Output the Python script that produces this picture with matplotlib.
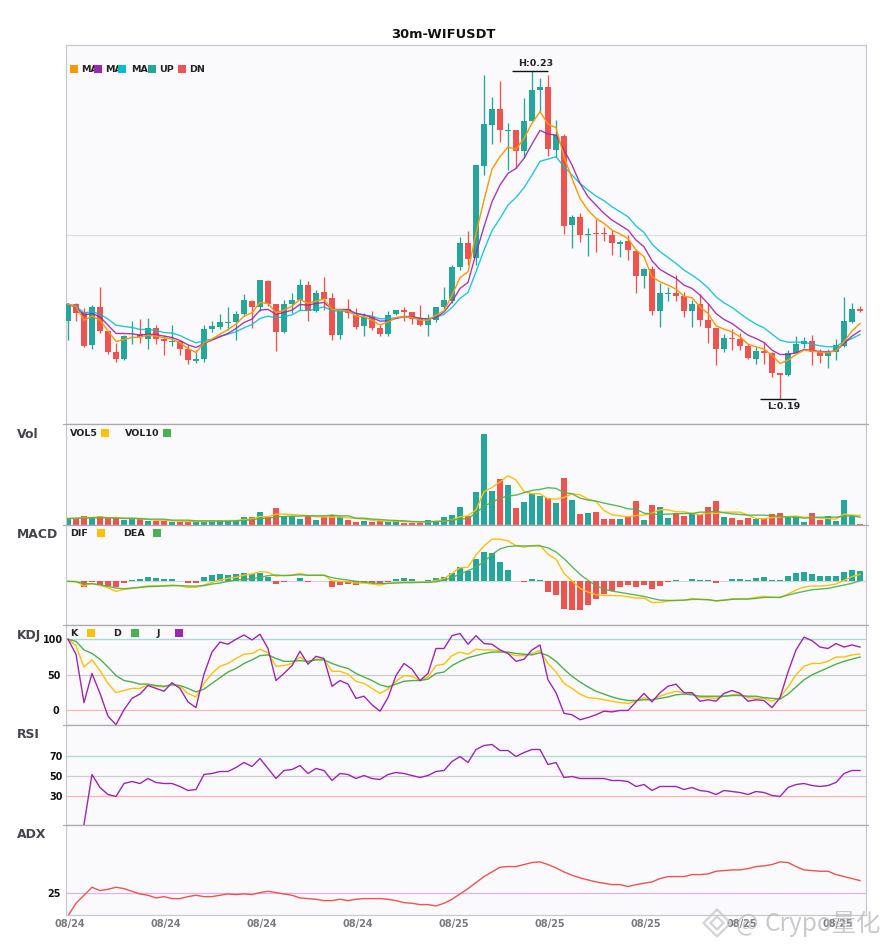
"""30m-WIFUSDT candlesticks with Vol / MACD / KDJ / RSI / ADX panels."""
import matplotlib
matplotlib.use("Agg")
import matplotlib.pyplot as plt
import numpy as np
from matplotlib.patches import Polygon, Rectangle
from matplotlib.transforms import ScaledTranslation

plt.rcParams["font.family"] = ["DejaVu Sans", "Noto Sans CJK SC"]

# ---- Data ---------------------------------------------------------------
TITLE = "30m-WIFUSDT"
TICK_LABELS = ["08/24"] * 4 + ["08/25"] * 5

# prices, in 1e-5 USDT
OPEN = [19976, 20176, 20084, 19688, 20140, 19852, 19600, 19516, 19812, 19816,
        19760, 19888, 19756, 19724, 19732, 19632, 19496, 19520, 19880, 19904,
        19952, 19960, 20060, 20212, 20144, 20452, 20176, 19840, 20176, 20224,
        20404, 20096, 20320, 20248, 19808, 20116, 20044, 19916, 20020, 19888,
        19820, 20060, 20104, 20080, 19996, 19928, 19988, 20144, 20212, 20624,
        20908, 20728, 21836, 22324, 22516, 22256, 22264, 22016, 22372, 22744,
        22780, 22024, 22192, 21124, 21220, 21004, 21028, 21028, 21004, 20900,
        20932, 20812, 20512, 20596, 20092, 20300, 20308, 20272, 20092, 20176,
        19984, 19888, 19636, 19768, 19756, 19672, 19516, 19612, 19588, 19348,
        19324, 19588, 19696, 19732, 19600, 19552, 19600, 19672, 19960, 20116]
CLOSE = [20176, 20072, 19676, 20140, 19856, 19604, 19520, 19792, 19820, 19780,
         19888, 19760, 19736, 19732, 19640, 19508, 19516, 19876, 19912, 19960,
         19960, 20056, 20224, 20140, 20464, 20176, 19844, 20176, 20224, 20404,
         20096, 20308, 20232, 19808, 20104, 20072, 19904, 20020, 19892, 19820,
         20044, 20104, 20084, 20000, 19928, 19996, 20140, 20224, 20620, 20908,
         20720, 21844, 22336, 22516, 22268, 22264, 22016, 22372, 22744, 22780,
         22036, 22204, 21116, 21220, 21004, 21016, 21020, 21020, 20908, 20920,
         20824, 20516, 20596, 20092, 20308, 20308, 20272, 20092, 20176, 19984,
         19888, 19636, 19768, 19756, 19672, 19528, 19612, 19588, 19348, 19324,
         19588, 19696, 19732, 19600, 19552, 19600, 19684, 19972, 20116, 20092]
HIGH = [20184, 20184, 20124, 20164, 20380, 19852, 19708, 19800, 19968, 19996,
        20008, 19924, 19804, 19924, 19732, 19684, 19624, 19924, 19968, 20056,
        20140, 20092, 20296, 20224, 20464, 20464, 20176, 20224, 20308, 20476,
        20452, 20344, 20500, 20308, 20112, 20236, 20128, 20064, 20092, 19924,
        20092, 20104, 20140, 20080, 20164, 20056, 20140, 20380, 20644, 20980,
        21052, 21844, 22924, 22660, 22852, 22348, 22264, 22648, 22972, 22888,
        22924, 22384, 22216, 21244, 21268, 21088, 21196, 21100, 21064, 20944,
        21004, 20836, 20608, 20632, 20428, 20380, 20524, 20320, 20224, 20296,
        20176, 19888, 19816, 19876, 19828, 19696, 19660, 19720, 19600, 19348,
        19624, 19792, 19780, 19804, 19636, 19636, 19756, 20260, 20188, 20152]
LOW = [19744, 19976, 19660, 19636, 19832, 19580, 19484, 19508, 19700, 19708,
       19636, 19696, 19564, 19676, 19564, 19460, 19472, 19484, 19844, 19876,
       19864, 19744, 20032, 19892, 20096, 20152, 19612, 19832, 20064, 20104,
       19972, 20084, 20104, 19744, 19756, 20008, 19876, 19792, 19864, 19792,
       19792, 20044, 19972, 19936, 19912, 19792, 19960, 20104, 20184, 20584,
       20644, 20644, 21724, 22096, 22120, 21784, 21808, 21928, 22372, 22484,
       21952, 21944, 21016, 20848, 20920, 20752, 20800, 20932, 20764, 20740,
       20704, 20308, 20368, 20044, 19900, 20212, 20212, 20020, 19900, 19912,
       19708, 19444, 19600, 19624, 19624, 19516, 19456, 19456, 19300, 19044,
       19312, 19588, 19648, 19444, 19468, 19408, 19504, 19660, 19948, 20080]
MA_FAST = [20176, 20144, 19984, 20032, 19984, 19856, 19728, 19752, 19776, 19780,
           19804, 19792, 19776, 19756, 19712, 19644, 19596, 19712, 19756, 19816,
           19872, 19936, 20032, 20072, 20196, 20184, 20072, 20104, 20152, 20232,
           20184, 20212, 20236, 20112, 20104, 20096, 20032, 20024, 19984, 19924,
           19964, 20016, 20024, 20016, 19984, 19984, 20044, 20096, 20284, 20492,
           20564, 21024, 21424, 21796, 21944, 22060, 22032, 22164, 22344, 22484,
           22336, 22292, 21944, 21684, 21444, 21304, 21204, 21144, 21064, 21016,
           20964, 20824, 20744, 20504, 20444, 20404, 20356, 20272, 20252, 20144,
           20064, 19916, 19876, 19844, 19784, 19696, 19664, 19636, 19564, 19464,
           19504, 19572, 19624, 19612, 19600, 19596, 19616, 19724, 19856, 19944]
MA_MID = [20176, 20136, 20044, 20064, 20024, 19924, 19824, 19824, 19820, 19804,
          19816, 19812, 19792, 19776, 19740, 19688, 19656, 19704, 19744, 19784,
          19824, 19884, 19956, 19996, 20104, 20112, 20056, 20076, 20104, 20172,
          20164, 20184, 20196, 20112, 20112, 20112, 20064, 20048, 20016, 19972,
          19976, 20004, 20024, 20028, 20004, 19996, 20016, 20080, 20204, 20364,
          20436, 20784, 21104, 21404, 21604, 21744, 21804, 21924, 22096, 22260,
          22216, 22204, 22024, 21844, 21624, 21464, 21364, 21264, 21184, 21124,
          21064, 20944, 20864, 20696, 20592, 20536, 20484, 20404, 20364, 20284,
          20184, 20064, 19992, 19944, 19872, 19804, 19764, 19716, 19624, 19572,
          19572, 19592, 19632, 19620, 19608, 19604, 19616, 19704, 19792, 19856]
MA_SLOW = [20176, 20152, 20072, 20084, 20056, 19996, 19924, 19908, 19896, 19872,
           19872, 19860, 19836, 19828, 19800, 19752, 19712, 19736, 19756, 19792,
           19816, 19844, 19892, 19932, 20004, 20032, 20012, 20024, 20048, 20100,
           20100, 20120, 20144, 20096, 20092, 20092, 20064, 20044, 20032, 20000,
           20000, 20012, 20028, 20024, 20004, 20000, 20020, 20052, 20136, 20244,
           20316, 20564, 20824, 21056, 21204, 21364, 21456, 21572, 21724, 21888,
           21916, 21944, 21824, 21724, 21624, 21544, 21472, 21416, 21344, 21284,
           21224, 21112, 21036, 20896, 20804, 20736, 20664, 20584, 20524, 20456,
           20372, 20264, 20192, 20136, 20064, 19996, 19936, 19892, 19816, 19744,
           19720, 19720, 19720, 19696, 19676, 19664, 19668, 19724, 19764, 19812]

VOLUME = [19, 19, 26, 18, 26, 18, 21, 12, 18, 15, 11, 11, 11, 8, 8, 8, 8, 9, 9, 14,
          14, 14, 23, 23, 38, 21, 50, 26, 24, 17, 26, 14, 21, 29, 21, 14, 8, 11, 8, 9,
          8, 9, 5, 5, 5, 14, 11, 22, 29, 53, 26, 98, 272, 101, 137, 119, 50, 68, 95, 86,
          79, 65, 140, 74, 32, 35, 38, 17, 17, 17, 23, 71, 14, 59, 53, 20, 35, 26, 32, 27,
          53, 71, 23, 20, 14, 20, 17, 15, 32, 35, 23, 26, 8, 35, 14, 26, 11, 74, 26, 2]
VOL5 = [18, 18, 21, 21, 23, 20, 21, 18, 18, 17, 15, 13, 13, 11, 10, 9, 9, 9, 10, 11,
        12, 12, 15, 17, 24, 23, 31, 31, 30, 28, 27, 23, 23, 22, 23, 20, 18, 16, 13, 11,
        10, 10, 9, 8, 7, 8, 10, 10, 14, 23, 26, 44, 98, 111, 127, 146, 133, 99, 92, 92,
        77, 76, 81, 92, 89, 76, 69, 42, 29, 26, 23, 27, 28, 34, 44, 44, 38, 38, 33, 29,
        35, 33, 37, 37, 37, 28, 18, 17, 21, 22, 24, 25, 22, 21, 19, 18, 16, 31, 28, 27]
VOL10 = [18, 19, 19, 20, 20, 20, 19, 19, 19, 18, 16, 16, 16, 13, 13, 13, 11, 11, 11, 10,
         10, 11, 12, 14, 18, 19, 23, 24, 25, 25, 26, 26, 26, 28, 26, 26, 19, 19, 16, 15,
         13, 12, 11, 9, 8, 8, 9, 10, 13, 16, 18, 34, 55, 66, 79, 85, 88, 95, 102, 105,
         110, 108, 96, 92, 79, 73, 70, 64, 59, 54, 47, 46, 34, 31, 30, 31, 32, 33, 33, 37,
         37, 40, 35, 32, 30, 28, 28, 28, 26, 24, 22, 22, 19, 21, 22, 22, 22, 25, 26, 22]

# MACD, in 1e-5 USDT
MACD_HIST = [0, 0, -16, -3, -12, -14, -17, -4, 3, 6, 12, 9, 6, 6, 0, -4, -4, 12, 18, 21,
             18, 21, 24, 21, 24, 12, -7, -2, 0, 9, -2, 0, 0, -16, -10, -7, -10, -5, -7, -8,
             -1, 6, 9, 6, 0, 3, 9, 12, 26, 42, 32, 66, 87, 84, 57, 33, 0, -2, 6, 3,
             -32, -41, -83, -86, -86, -71, -53, -38, -29, -17, -11, -17, -11, -23, -14, -2, 3, 0, 6, 3,
             3, -5, 0, 6, 6, 3, 9, 12, 3, 3, 15, 24, 27, 21, 15, 15, 15, 27, 33, 30]
DIF = [0, 0, -14, -6, -12, -19, -30, -24, -21, -18, -13, -13, -13, -11, -13, -18, -18, -11, -3, 4,
       9, 12, 19, 22, 29, 27, 16, 18, 19, 24, 18, 19, 19, 2, 0, -1, -5, -5, -8, -11,
       -6, -4, -2, -2, -3, -3, 3, 8, 24, 41, 42, 79, 106, 126, 126, 121, 107, 102, 107, 108,
       81, 66, 24, 1, -21, -32, -40, -42, -42, -43, -46, -50, -50, -63, -63, -59, -57, -57, -51, -54,
       -54, -59, -57, -52, -52, -52, -48, -45, -47, -48, -38, -26, -17, -14, -14, -12, -8, 3, 14, 21]
DEA = [0, -1, -7, -7, -10, -15, -20, -22, -20, -18, -16, -15, -14, -13, -13, -14, -14, -13, -8, -5,
       0, 4, 6, 8, 12, 17, 19, 17, 18, 20, 18, 18, 18, 11, 7, 4, 0, -2, -4, -6,
       -6, -5, -4, -4, -3, -3, -1, 4, 11, 22, 32, 42, 59, 80, 97, 104, 106, 106, 106, 106,
       100, 88, 68, 44, 21, 3, -13, -23, -29, -33, -37, -41, -45, -51, -56, -57, -57, -56, -54, -54,
       -55, -58, -56, -54, -53, -53, -51, -48, -48, -48, -41, -35, -30, -25, -23, -21, -16, -11, -6, 2]

KDJ_K = [100, 91, 61, 71, 56, 38, 25, 28, 31, 31, 36, 34, 33, 37, 34, 24, 19, 38, 52, 62,
         66, 73, 79, 80, 86, 81, 62, 63, 66, 75, 68, 72, 72, 55, 55, 51, 41, 38, 31, 24,
         30, 41, 49, 48, 42, 47, 63, 65, 77, 82, 79, 86, 85, 85, 84, 80, 77, 77, 80, 84,
         66, 54, 38, 31, 23, 18, 17, 15, 13, 11, 10, 13, 18, 15, 20, 24, 27, 25, 24, 18,
         18, 17, 20, 22, 23, 18, 17, 17, 13, 18, 33, 50, 62, 66, 66, 69, 75, 75, 78, 79]
KDJ_D = [100, 97, 85, 80, 72, 61, 49, 42, 40, 37, 37, 35, 34, 36, 35, 31, 26, 30, 38, 46,
         54, 59, 66, 71, 77, 78, 73, 69, 69, 70, 69, 71, 71, 66, 62, 59, 52, 47, 42, 36,
         33, 37, 41, 42, 42, 44, 52, 54, 63, 69, 74, 77, 80, 82, 82, 82, 80, 79, 78, 81,
         77, 69, 58, 48, 40, 33, 27, 23, 19, 16, 14, 14, 15, 15, 17, 19, 22, 23, 22, 20,
         20, 20, 20, 21, 21, 20, 20, 18, 17, 16, 23, 33, 43, 50, 55, 60, 65, 69, 72, 75]
KDJ_J = [100, 79, 11, 52, 24, -8, -20, 1, 17, 23, 35, 31, 27, 39, 31, 12, 4, 51, 82, 96,
         93, 100, 106, 99, 107, 87, 42, 52, 63, 83, 65, 76, 73, 34, 42, 37, 17, 20, 8, -1,
         18, 49, 66, 58, 42, 52, 87, 87, 105, 108, 93, 105, 94, 93, 85, 80, 69, 72, 85, 92,
         43, 25, -4, -6, -13, -10, -6, -1, -2, 0, 0, 12, 24, 12, 25, 34, 37, 25, 25, 13,
         15, 13, 24, 28, 24, 13, 15, 14, 4, 18, 54, 85, 103, 98, 89, 87, 94, 89, 92, 89]
RSI = [np.nan, np.nan, 1, 51, 38, 31, 29, 42, 44, 42, 47, 43, 42, 42, 39, 35, 36, 51, 52, 54,
       54, 58, 63, 59, 67, 57, 47, 55, 56, 60, 52, 57, 55, 45, 52, 51, 47, 50, 47, 46,
       51, 53, 52, 50, 48, 50, 54, 55, 64, 69, 63, 76, 80, 81, 75, 75, 69, 73, 76, 76,
       61, 63, 48, 49, 47, 47, 47, 47, 45, 45, 44, 39, 41, 35, 39, 39, 39, 36, 38, 35,
       34, 31, 35, 34, 33, 31, 34, 33, 30, 29, 38, 41, 42, 40, 39, 40, 43, 52, 55, 55]
ADX = [7.5, 17, 23, 29, 26.5, 27.5, 29, 28, 26, 24, 23, 21, 22, 20.5, 20.5, 22, 23, 22, 22, 23,
       24, 23.5, 24, 23.5, 25, 26, 25, 24, 23, 21, 20.5, 20, 19, 19, 20, 19, 20, 20.5, 20.5, 20.5,
       20, 19, 17.5, 17, 16, 16, 15, 17, 20, 24, 28, 32.5, 37, 40.5, 44, 44.5, 44.5, 46, 47.5, 48,
       46, 43.5, 40.5, 38, 36, 34.5, 33, 32, 31, 31, 29.5, 31, 32, 33, 35.5, 37, 37, 37, 38.5, 38.5,
       39, 41, 41.5, 42, 42, 43, 44.5, 45, 46, 48, 47.5, 44.5, 42, 41.5, 41, 41, 38.5, 37, 35.5, 34]

# ---- Style --------------------------------------------------------------
W, H = 885, 950
UP = "#26A69A"
DOWN = "#EF5350"
YELLOW = "#FFC107"
GREEN = "#4CAF50"
PURPLE = "#9C27B0"
PANEL_BG = "#FAFAFC"
EDGE = "#C8C8D0"
SEP = "#A8A8AE"
LEFT, RIGHT = 65.5, 865.7
LW = 1.0

fig = plt.figure(figsize=(W / 100, H / 100), dpi=100)
fig.patch.set_facecolor("white")


def add_panel(top, bottom, ylim, first=False):
    ax = fig.add_axes([LEFT / W, 1 - bottom / H, (RIGHT - LEFT) / W, (bottom - top) / H])
    ax.set_facecolor(PANEL_BG)
    ax.set_xlim(-0.31, 99.71)
    ax.set_ylim(*ylim)
    ax.set_xticks([])
    ax.set_yticks([])
    for spine in ax.spines.values():
        spine.set_linewidth(0.9)
        spine.set_color(EDGE)
    ax.spines["top"].set_color(EDGE if first else SEP)
    if not first:
        # tiny stubs where the panels meet
        for xs in ([-0.003, 0], [1, 1.003]):
            ax.plot(xs, [1, 1], transform=ax.transAxes, clip_on=False,
                    color=SEP, linewidth=0.8)
    return ax


def hline(ax, y, color):
    ax.axhline(y, color=color, linewidth=0.9, zorder=1)


def legend_item(label, text_x, y):
    # legends are placed in figure pixels, squares go on top of the text
    fig.text(text_x / W, 1 - (y + 4.3) / H, label, fontsize=6.8, fontweight="bold",
             color="#222222", va="center", zorder=10)


def legend_square(square_x, y, color):
    fig.add_artist(Rectangle((square_x / W, 1 - (y + 8) / H), 8 / W, 8 / H,
                             transform=fig.transFigure, facecolor=color,
                             edgecolor="none", zorder=11))


def panel_name(label, y):
    fig.text(17 / W, 1 - y / H, label, fontsize=8.9, fontweight="bold",
             color="#44444C", va="center")


idx = np.arange(len(OPEN))
opens = np.array(OPEN) * 1e-5
closes = np.array(CLOSE) * 1e-5
highs = np.array(HIGH) * 1e-5
lows = np.array(LOW) * 1e-5
colors = [UP if c >= o else DOWN for o, c in zip(opens, closes)]

# ---- Candles ------------------------------------------------------------
ax_main = add_panel(45.3, 424.2, (0.18736, 0.2328), first=True)
hline(ax_main, 0.21, "#DCDCE0")
ax_main.vlines(idx, lows, highs, colors=colors, linewidth=0.95, zorder=2)
heights = np.abs(closes - opens)
heights = np.maximum(heights, 0.00007)
ax_main.bar(idx, heights, bottom=np.minimum(opens, closes), width=0.75,
            color=colors, linewidth=0, zorder=3)
ax_main.plot(idx, np.array(MA_SLOW) * 1e-5, color="#00BCD4", linewidth=LW, alpha=0.85, zorder=4)
ax_main.plot(idx, np.array(MA_MID) * 1e-5, color=PURPLE, linewidth=LW, alpha=0.9, zorder=5)
ax_main.plot(idx, np.array(MA_FAST) * 1e-5, color="#FF9800", linewidth=LW, zorder=6)

top_i = int(np.argmax(highs))
low_i = int(np.argmin(lows))
ax_main.hlines(highs[top_i], top_i - 2.5, top_i + 2, color="#111111", linewidth=1.0, zorder=7)
ax_main.hlines(lows[low_i], low_i - 2.5, low_i + 2, color="#111111", linewidth=1.0, zorder=7)
ax_main.annotate(f"H:{highs[top_i]:.2f}", (top_i, highs[top_i]), xytext=(3, 2),
                 textcoords="offset points", ha="center", va="bottom", fontsize=6.8,
                 fontweight="bold", color="#222222")
ax_main.annotate(f"L:{lows[low_i]:.2f}", (low_i, lows[low_i]), xytext=(2.5, -2.5),
                 textcoords="offset points", ha="center", va="top", fontsize=6.8,
                 fontweight="bold", color="#222222")
fig.text(443.5 / W, 1 - 34 / H, TITLE, ha="center", va="center", fontsize=9.4,
         fontweight="bold", color="#111111")

# ---- Vol ----------------------------------------------------------------
ax_vol = add_panel(424.2, 524.5, (0, 300))
ax_vol.bar(idx, VOLUME, width=0.75, color=colors, linewidth=0, zorder=2)
ax_vol.plot(idx, VOL5, color=YELLOW, linewidth=LW, zorder=3)
ax_vol.plot(idx, VOL10, color=GREEN, linewidth=LW, alpha=0.9, zorder=4)

# ---- MACD ---------------------------------------------------------------
ax_macd = add_panel(524.5, 624.5, (-129, 170))
hline(ax_macd, 0, "#D4D4D8")
ax_macd.bar(idx, MACD_HIST, width=0.75, linewidth=0, zorder=2,
            color=[UP if v >= 0 else DOWN for v in MACD_HIST])
ax_macd.plot(idx, DIF, color=YELLOW, linewidth=LW, zorder=3)
ax_macd.plot(idx, DEA, color=GREEN, linewidth=LW, alpha=0.9, zorder=4)

# ---- KDJ ----------------------------------------------------------------
ax_kdj = add_panel(624.5, 724.5, (-19.7, 120.7))
hline(ax_kdj, 100, "#A8DAD6")
hline(ax_kdj, 50, "#CCCCD0")
hline(ax_kdj, 0, "#FFB4B4")
ax_kdj.plot(idx, KDJ_K, color=YELLOW, linewidth=LW, zorder=3)
ax_kdj.plot(idx, KDJ_D, color=GREEN, linewidth=LW, zorder=4)
ax_kdj.plot(idx, KDJ_J, color=PURPLE, linewidth=LW, zorder=5)

# ---- RSI ----------------------------------------------------------------
ax_rsi = add_panel(724.5, 824.5, (1, 101))
hline(ax_rsi, 70, "#A8DAD6")
hline(ax_rsi, 50, "#CCCCD0")
hline(ax_rsi, 30, "#FFB4B4")
ax_rsi.plot(idx, RSI, color=PURPLE, linewidth=LW, zorder=3)

# ---- ADX ----------------------------------------------------------------
ax_adx = add_panel(824.5, 915.3, (8, 76))
hline(ax_adx, 25, "#E0B0EA")
ax_adx.plot(idx, ADX, color=DOWN, linewidth=LW, zorder=3)
ax_adx.set_xticks(idx[::12], TICK_LABELS)
ax_adx.tick_params(axis="x", length=0, pad=2.5, labelsize=7.0, labelcolor="#7A7A80")
shift = ScaledTranslation(2 / 100, 0, fig.dpi_scale_trans)
for label in ax_adx.get_xticklabels():
    label.set_fontweight("bold")
    label.set_transform(label.get_transform() + shift)

# ---- y tick labels ------------------------------------------------------
for ax, ticks, pad in ((ax_kdj, [0, 50, 100], 1.8), (ax_rsi, [30, 50, 70], 1.8), (ax_adx, [25], 3.2)):
    ax.set_yticks(ticks)
    ax.tick_params(axis="y", length=0, pad=pad, labelsize=6.9, labelcolor="#111111")
    for label in ax.get_yticklabels():
        label.set_fontweight("bold")
ax_kdj.get_yticklabels()[0].set_x(-0.005)
ax_kdj.get_yticklabels()[1].set_x(-0.0025)

# ---- Legends ------------------------------------------------------------
for label, tx in (("MA", 81), ("MA", 105), ("MA", 131), ("UP", 159), ("DN", 189)):
    legend_item(label, tx, 65)
for sx, c in ((70, "#FF9800"), (94, PURPLE), (118, "#00BCD4"), (148, UP), (178, DOWN)):
    legend_square(sx, 65, c)
for label, tx, sx, c in (("VOL5", 70, 101, YELLOW), ("VOL10", 125, 163, GREEN)):
    legend_item(label, tx, 429)
    legend_square(sx, 429, c)
for label, tx, sx, c in (("DIF", 70, 97, YELLOW), ("DEA", 123, 153, GREEN)):
    legend_item(label, tx, 529)
    legend_square(sx, 529, c)
for label, tx, sx, c in (("K", 70, 87, YELLOW), ("D", 113, 131, GREEN), ("J", 157, 175, PURPLE)):
    legend_item(label, tx, 629)
    legend_square(sx, 629, c)
for label, y in (("Vol", 435), ("MACD", 535), ("KDJ", 635), ("RSI", 735), ("ADX", 835)):
    panel_name(label, y)

# ---- Watermark ----------------------------------------------------------
cx, cy = 717, 923
for r, lw in ((13.5, 1.6), (6.5, 1.6)):
    pts = [((cx + dx) / W, 1 - (cy + dy) / H) for dx, dy in ((0, -r), (r, 0), (0, r), (-r, 0))]
    fig.add_artist(Polygon(pts, closed=True, transform=fig.transFigure, fill=False,
                           edgecolor="#C9C9CD", linewidth=lw, alpha=0.8, zorder=20))
WM_FONT = ["Noto Sans CJK SC", "DejaVu Sans"]
fig.text(736 / W, 1 - 924 / H, "@", fontsize=17, color="#B9B9BD", alpha=0.75,
         va="center", zorder=20, family=WM_FONT)
fig.text(765 / W, 1 - 924 / H, "Crypo量化", fontsize=17.6, color="#B9B9BD", alpha=0.75,
         va="center", zorder=20, family=WM_FONT)

fig.savefig("out.png", dpi=100, facecolor="white")
